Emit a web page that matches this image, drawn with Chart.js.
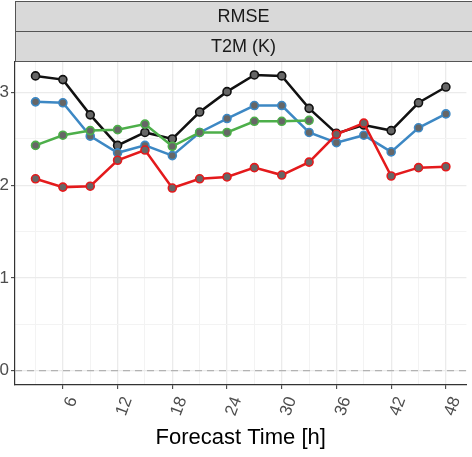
<!DOCTYPE html>
<html>
<head>
<meta charset="utf-8">
<script src="https://cdn.jsdelivr.net/npm/chart.js@4"></script>
<style>
  html, body { margin: 0; padding: 0; background: #fff; }
  canvas { display: block; }
</style>
</head>
<body>
<canvas id="rmseChart" width="472" height="457"></canvas>
<script>
// forecast lead times (hours)
const hours = [3, 6, 9, 12, 15, 18, 21, 24, 27, 30, 33, 36, 39, 42, 45, 48];

// RMSE values per model
const blackValues = [3.18, 3.14, 2.76, 2.43, 2.57, 2.50, 2.79, 3.01, 3.19, 3.18, 2.83, 2.56, 2.65, 2.59, 2.89, 3.06];
const blueValues  = [2.90, 2.89, 2.53, 2.35, 2.43, 2.32, 2.57, 2.72, 2.86, 2.86, 2.57, 2.46, 2.54, 2.36, 2.62, 2.77];
const greenValues = [2.43, 2.54, 2.59, 2.60, 2.66, 2.42, 2.57, 2.57, 2.69, 2.69, 2.70];
const redValues   = [2.07, 1.98, 1.99, 2.27, 2.38, 1.97, 2.07, 2.09, 2.19, 2.11, 2.25, 2.55, 2.67, 2.10, 2.19, 2.20];

// axis ticks
const xMajorTicks = [6, 12, 18, 24, 30, 36, 42, 48];
const xMinorTicks = [3, 9, 15, 21, 27, 33, 39, 45];
const yMajorTicks = [0, 1, 2, 3];
const yMinorTicks = [0.5, 1.5, 2.5];

const stripLabels = ['RMSE', 'T2M (K)'];
const xTitle = 'Forecast Time [h]';

const FONT = '"Liberation Sans", Arial, sans-serif';

// turn a list of values into {x, y} points
function toPoints(values) {
  return values.map((v, i) => ({ x: hours[i], y: v }));
}

function makeSeries(values, color, order) {
  return {
    data: toPoints(values),
    borderColor: color,
    borderWidth: 2.5,
    pointRadius: 4,
    pointBorderWidth: 1.6,
    pointBorderColor: color,
    pointBackgroundColor: '#666666',
    tension: 0,
    order: order
  };
}

// grey facet strips above the panel
const stripPlugin = {
  id: 'strips',
  beforeDraw(chart) {
    const ctx = chart.ctx;
    const left = chart.chartArea.left;
    const right = chart.width + 2;
    const top = 1;
    const h = (chart.chartArea.top - top - 1) / stripLabels.length;
    ctx.save();
    stripLabels.forEach((label, i) => {
      const y = top + i * h;
      ctx.fillStyle = '#d9d9d9';
      ctx.fillRect(left, y, right - left, h);
      ctx.strokeStyle = '#555555';
      ctx.lineWidth = 1;
      ctx.strokeRect(left + 0.5, y + 0.5, right - left, h);
      ctx.fillStyle = '#1a1a1a';
      ctx.font = '18px ' + FONT;
      ctx.textAlign = 'center';
      ctx.textBaseline = 'middle';
      ctx.fillText(label, (left + chart.width) / 2, y + h / 2 + 1);
    });
    ctx.restore();
  }
};

// dashed reference line at zero
const zeroLinePlugin = {
  id: 'zeroLine',
  beforeDatasetsDraw(chart) {
    const ctx = chart.ctx;
    const y = chart.scales.y.getPixelForValue(0);
    ctx.save();
    ctx.strokeStyle = '#b3b3b3';
    ctx.lineWidth = 1.2;
    ctx.setLineDash([7, 5]);
    ctx.beginPath();
    ctx.moveTo(chart.chartArea.left, y);
    ctx.lineTo(chart.chartArea.right, y);
    ctx.stroke();
    ctx.restore();
  }
};

const ctx = document.getElementById('rmseChart').getContext('2d');
const rmseChart = new Chart(ctx, {
  type: 'line',
  data: {
    datasets: [
      makeSeries(blackValues, '#111111', 4),
      makeSeries(blueValues, '#3d88c4', 3),
      makeSeries(greenValues, '#4daf4a', 2),
      makeSeries(redValues, '#e41a1c', 1)
    ]
  },
  options: {
    responsive: false,
    animation: false,
    layout: { padding: { top: 62, left: 0, right: 0, bottom: 0 } },
    plugins: {
      legend: { display: false },
      tooltip: { enabled: false }
    },
    scales: {
      x: {
        type: 'linear',
        min: 0.75,
        max: 50.25,
        afterBuildTicks: (scale) => {
          scale.ticks = xMajorTicks.concat(xMinorTicks).sort((a, b) => a - b).map(v => ({ value: v }));
        },
        afterFit: (scale) => { scale.height = 72; },
        grid: {
          color: (c) => xMajorTicks.includes(c.tick && c.tick.value) ? '#ebebeb' : '#f3f3f3',
          lineWidth: (c) => xMajorTicks.includes(c.tick && c.tick.value) ? 1.3 : 1,
          tickColor: (c) => xMajorTicks.includes(c.tick && c.tick.value) ? '#333333' : 'rgba(0,0,0,0)',
          tickLength: 4,
          tickWidth: 1
        },
        border: { display: true, color: '#333333', width: 1.2 },
        ticks: {
          autoSkip: false,
          minRotation: 70,
          maxRotation: 70,
          padding: 5,
          labelOffset: 10,
          color: '#4d4d4d',
          font: { family: FONT, size: 17 },
          callback: (value) => xMajorTicks.includes(value) ? String(value) : ''
        },
        title: {
          display: true,
          text: xTitle,
          color: '#000000',
          font: { family: FONT, size: 22 },
          padding: { top: 0, bottom: 6 }
        }
      },
      y: {
        type: 'linear',
        min: -0.155,
        max: 3.33,
        afterBuildTicks: (scale) => {
          scale.ticks = yMajorTicks.concat(yMinorTicks).sort((a, b) => a - b).map(v => ({ value: v }));
        },
        afterFit: (scale) => { scale.width = 15; },
        grid: {
          color: (c) => yMajorTicks.includes(c.tick && c.tick.value) ? '#ebebeb' : '#f3f3f3',
          lineWidth: (c) => yMajorTicks.includes(c.tick && c.tick.value) ? 1.3 : 1,
          tickColor: (c) => yMajorTicks.includes(c.tick && c.tick.value) ? '#333333' : 'rgba(0,0,0,0)',
          tickLength: 4,
          tickWidth: 1
        },
        border: { display: true, color: '#333333', width: 1.2 },
        ticks: {
          autoSkip: false,
          padding: 2,
          color: '#4d4d4d',
          font: { family: FONT, size: 17 },
          callback: (value) => yMajorTicks.includes(value) ? String(value) : ''
        }
      }
    }
  },
  plugins: [stripPlugin, zeroLinePlugin]
});
</script>
</body>
</html>
